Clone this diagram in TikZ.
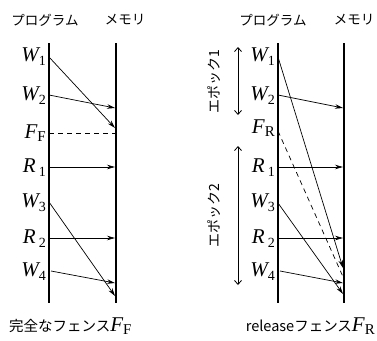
\documentclass[tikz,border=0pt]{standalone}
\usepackage{fontspec}
\setmainfont{Noto Sans CJK JP}
\newfontfamily\tms{Liberation Serif}
\usetikzlibrary{arrows.meta}
\newcommand\lbl[2]{{\tms\fontsize{21}{21}\selectfont\itshape #1}{\tms\fontsize{14}{14}\selectfont\raisebox{-4pt}{#2}}}
\newcommand\lblF[2]{{\tms\fontsize{21}{21}\selectfont\itshape #1}{\tms\fontsize{15}{15}\selectfont\raisebox{-3pt}{#2}}}
\begin{document}
\begin{tikzpicture}[x=1pt,y=-1pt,
  timeline/.style={line width=1.8pt},
  msg/.style={line width=0.7pt,-{Stealth[length=8pt,width=4.5pt]}},
  fence/.style={line width=0.7pt,dash pattern=on 5pt off 4pt},
  epoch/.style={line width=0.8pt,{Straight Barb[length=4pt,width=7pt]}-{Straight Barb[length=4pt,width=7pt]}},
  hdr/.style={font=\fontsize{13.5}{14}\selectfont},
  ev/.style={anchor=east,inner sep=0pt},
  eplbl/.style={rotate=90,font=\fontsize{14}{14}\selectfont},
  captext/.style={font=\fontsize{14.5}{15}\selectfont,inner sep=0pt}]
\useasboundingbox (0,0) rectangle (377,340);
% ---------------- left diagram ----------------
\node[hdr] (lp) at (45,20) {プログラム};
\node[hdr] (lm) at (125,20) {メモリ};
\coordinate (lpt) at (49,43); \coordinate (lpb) at (49,303);
\coordinate (lmt) at (116,43); \coordinate (lmb) at (116,303);
\draw[timeline] (lpt) -- (lpb);
\draw[timeline] (lmt) -- (lmb);
\node[ev] (lw1) at (46,57) {\lbl{W}{1}};
\node[ev] (lw2) at (46,96) {\lbl{W}{2}};
\node[ev] (lf)  at (46,133) {\lblF{F}{F}};
\node[ev] (lr1) at (46,168) {\lbl{R}{\hspace{3pt}1}};
\node[ev] (lw3) at (46,203) {\lbl{W}{3}};
\node[ev] (lr2) at (46,239) {\lbl{R}{\hspace{3pt}2}};
\node[ev] (lw4) at (46,272) {\lbl{W}{4}};
\coordinate (lpw1) at (49,57);  \coordinate (lmw1) at (115,128);
\coordinate (lpw2) at (49,95);  \coordinate (lmw2) at (115,108);
\coordinate (lpf)  at (49,133); \coordinate (lmf)  at (116,133);
\coordinate (lpr1) at (49,167); \coordinate (lmr1) at (115,167);
\coordinate (lpw3) at (49,202); \coordinate (lmw3) at (115,296);
\coordinate (lpr2) at (49,238); \coordinate (lmr2) at (115,238);
\coordinate (lpw4) at (51,271); \coordinate (lmw4) at (115,283);
\draw[msg] (lpw1) -- (lmw1);
\draw[msg] (lpw2) -- (lmw2);
\draw[fence] (lpf) -- (lmf);
\draw[msg] (lpr1) -- (lmr1);
\draw[msg] (lpw3) -- (lmw3);
\draw[msg] (lpr2) -- (lmr2);
\draw[msg] (lpw4) -- (lmw4);
\node[captext,anchor=base west] (lcap) at (9,331) {完全なフェンス\lblF{F}{F}};
% ---------------- right diagram ----------------
\node[hdr] (rp) at (273,20) {プログラム};
\node[hdr] (rm) at (354,20) {メモリ};
\coordinate (rpt) at (278,43); \coordinate (rpb) at (278,303);
\coordinate (rmt) at (344,43); \coordinate (rmb) at (344,303);
\draw[timeline] (rpt) -- (rpb);
\draw[timeline] (rmt) -- (rmb);
\node[ev] (rw1) at (275,57) {\lbl{W}{1}};
\node[ev] (rw2) at (275,96) {\lbl{W}{2}};
\node[ev] (rf)  at (275,128) {\lblF{F}{R}};
\node[ev] (rr1) at (275,168) {\lbl{R}{\hspace{3pt}1}};
\node[ev] (rw3) at (275,203) {\lbl{W}{3}};
\node[ev] (rr2) at (275,239) {\lbl{R}{\hspace{3pt}2}};
\node[ev] (rw4) at (275,272) {\lbl{W}{4}};
\coordinate (rpw1) at (278,57);  \coordinate (rmw1) at (343,268);
\coordinate (rpw2) at (278,95);  \coordinate (rmw2) at (343,108);
\coordinate (rpf)  at (278,131); \coordinate (rmf)  at (344,279);
\coordinate (rpr1) at (278,167); \coordinate (rmr1) at (343,167);
\coordinate (rpw3) at (278,203); \coordinate (rmw3) at (343,294);
\coordinate (rpr2) at (278,238); \coordinate (rmr2) at (343,238);
\coordinate (rpw4) at (280,271); \coordinate (rmw4) at (343,283);
\draw[msg] (rpw1) -- (rmw1);
\draw[msg] (rpw2) -- (rmw2);
\draw[fence] (rpf) -- (rmf);
\draw[msg] (rpr1) -- (rmr1);
\draw[msg] (rpw3) -- (rmw3);
\draw[msg] (rpr2) -- (rmr2);
\draw[msg] (rpw4) -- (rmw4);
% epochs
\coordinate (e1t) at (238,47); \coordinate (e1b) at (238,115);
\coordinate (e2t) at (238,146); \coordinate (e2b) at (238,285);
\draw[epoch] (e1t) -- (e1b);
\draw[epoch] (e2t) -- (e2b);
\node[eplbl] (e1l) at (214,82) {エポック1};
\node[eplbl] (e2l) at (214,216) {エポック2};
\node[captext,anchor=base east] (rcap) at (375,331) {release{}フェンス\lblF{F}{R}};
\end{tikzpicture}
\end{document}
